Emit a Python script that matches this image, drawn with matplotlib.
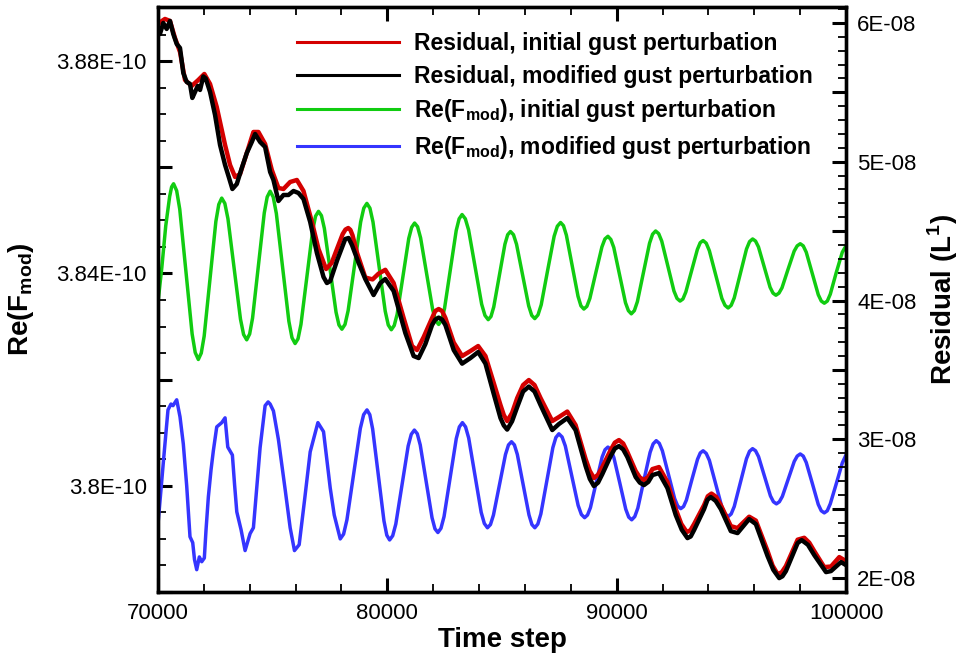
import numpy as np
import matplotlib
matplotlib.use('Agg')
import matplotlib.pyplot as plt
from matplotlib.ticker import MultipleLocator, FuncFormatter
from matplotlib.lines import Line2D

# (time step, Re(F_mod) in units of 1E-10), initial gust perturbation
f_init_pts = [
    (70000, 3.8345), (70170, 3.8412), (70340, 3.8490), (70510, 3.8545), (70595, 3.8563),
    (70680, 3.8569), (70815, 3.8556), (70950, 3.8521), (71220, 3.8404), (71490, 3.8286),
    (71625, 3.8251), (71760, 3.8238), (71888, 3.8250), (72015, 3.8282), (72270, 3.8390),
    (72525, 3.8498), (72652, 3.8530), (72780, 3.8542), (72916, 3.8532), (73052, 3.8503),
    (73325, 3.8409), (73598, 3.8314), (73734, 3.8285), (73870, 3.8275), (73998, 3.8286),
    (74125, 3.8316), (74380, 3.8415), (74635, 3.8514), (74762, 3.8544), (74890, 3.8555),
    (75026, 3.8544), (75162, 3.8513), (75435, 3.8412), (75708, 3.8310), (75844, 3.8279),
    (75980, 3.8268), (76108, 3.8277), (76235, 3.8304), (76490, 3.8393), (76745, 3.8481),
    (76872, 3.8508), (77000, 3.8517), (77128, 3.8509), (77255, 3.8485), (77510, 3.8406),
    (77765, 3.8327), (77892, 3.8303), (78020, 3.8295), (78156, 3.8304), (78292, 3.8330),
    (78565, 3.8414), (78838, 3.8497), (78974, 3.8523), (79110, 3.8532), (79243, 3.8523),
    (79376, 3.8497), (79642, 3.8413), (79909, 3.8329), (80042, 3.8303), (80175, 3.8294),
    (80302, 3.8302), (80429, 3.8323), (80682, 3.8395), (80936, 3.8466), (81063, 3.8487),
    (81190, 3.8495), (81321, 3.8488), (81452, 3.8467), (81715, 3.8400), (81978, 3.8332),
    (82109, 3.8311), (82240, 3.8304), (82368, 3.8312), (82495, 3.8334), (82750, 3.8408),
    (83005, 3.8481), (83132, 3.8503), (83260, 3.8511), (83402, 3.8503), (83545, 3.8482),
    (83830, 3.8412), (84115, 3.8342), (84258, 3.8321), (84400, 3.8313), (84521, 3.8319),
    (84642, 3.8337), (84885, 3.8396), (85128, 3.8455), (85249, 3.8473), (85370, 3.8479),
    (85502, 3.8473), (85635, 3.8455), (85900, 3.8397), (86165, 3.8339), (86298, 3.8321),
    (86430, 3.8315), (86571, 3.8322), (86711, 3.8341), (86992, 3.8406), (87274, 3.8470),
    (87414, 3.8489), (87555, 3.8496), (87682, 3.8490), (87809, 3.8472), (88062, 3.8415),
    (88316, 3.8357), (88443, 3.8339), (88570, 3.8333), (88701, 3.8338), (88832, 3.8353),
    (89095, 3.8402), (89358, 3.8450), (89489, 3.8465), (89620, 3.8470), (89748, 3.8464),
    (89875, 3.8449), (90130, 3.8397), (90385, 3.8345), (90512, 3.8330), (90640, 3.8324),
    (90772, 3.8330), (90905, 3.8347), (91170, 3.8402), (91435, 3.8457), (91568, 3.8474),
    (91700, 3.8480), (91833, 3.8475), (91966, 3.8461), (92232, 3.8414), (92499, 3.8367),
    (92632, 3.8353), (92765, 3.8348), (92891, 3.8352), (93016, 3.8365), (93268, 3.8405),
    (93519, 3.8445), (93644, 3.8458), (93770, 3.8462), (93906, 3.8457), (94042, 3.8443),
    (94315, 3.8398), (94588, 3.8353), (94724, 3.8340), (94860, 3.8335), (94994, 3.8340),
    (95128, 3.8354), (95395, 3.8400), (95662, 3.8446), (95796, 3.8460), (95930, 3.8465),
    (96057, 3.8461), (96184, 3.8450), (96438, 3.8412), (96691, 3.8374), (96818, 3.8363),
    (96945, 3.8359), (97078, 3.8363), (97210, 3.8373), (97475, 3.8408), (97740, 3.8442),
    (97872, 3.8452), (98005, 3.8456), (98136, 3.8452), (98268, 3.8440), (98530, 3.8400),
    (98792, 3.8360), (98924, 3.8348), (99055, 3.8344), (99186, 3.8348), (99316, 3.8361),
    (99578, 3.8402), (99839, 3.8440), (100000, 3.8452)]

# (time step, Re(F_mod) in units of 1E-10), modified gust perturbation
f_mod_pts = [
    (70000, 3.7927), (70131, 3.7993), (70262, 3.8058), (70437, 3.8143), (70568, 3.8154),
    (70655, 3.8151), (70817, 3.8162), (70961, 3.8130), (71105, 3.8079), (71253, 3.8000),
    (71397, 3.7904), (71515, 3.7893), (71594, 3.7861), (71690, 3.7842), (71804, 3.7866),
    (71908, 3.7857), (72022, 3.7864), (72096, 3.7917), (72197, 3.7979), (72314, 3.8030),
    (72415, 3.8066), (72563, 3.8111), (72782, 3.8119), (72926, 3.8128), (73044, 3.8073),
    (73245, 3.8058), (73341, 3.8002), (73437, 3.7951), (73625, 3.7917), (73799, 3.7878),
    (74018, 3.7910), (74162, 3.7921), (74301, 3.7993), (74454, 3.8072), (74672, 3.8151),
    (74804, 3.8158), (74891, 3.8154), (75035, 3.8141), (75253, 3.8087), (75546, 3.7993),
    (75764, 3.7921), (75952, 3.7878), (76157, 3.7889), (76389, 3.7972), (76638, 3.8064),
    (76974, 3.8119), (77219, 3.8102), (77511, 3.7996), (77686, 3.7945), (77948, 3.7900),
    (78094, 3.7909), (78240, 3.7936), (78531, 3.8022), (78823, 3.8108), (78968, 3.8134),
    (79114, 3.8143), (79237, 3.8134), (79361, 3.8107), (79608, 3.8021), (79854, 3.7934),
    (79978, 3.7907), (80101, 3.7898), (80236, 3.7906), (80371, 3.7928), (80640, 3.8002),
    (80910, 3.8075), (81045, 3.8097), (81180, 3.8105), (81308, 3.8098), (81436, 3.8077),
    (81693, 3.8009), (81950, 3.7940), (82078, 3.7919), (82206, 3.7912), (82340, 3.7920),
    (82474, 3.7942), (82741, 3.8016), (83008, 3.8089), (83142, 3.8111), (83276, 3.8119),
    (83412, 3.8111), (83549, 3.8090), (83821, 3.8020), (84094, 3.7950), (84231, 3.7929),
    (84367, 3.7921), (84498, 3.7927), (84629, 3.7945), (84891, 3.8002), (85153, 3.8059),
    (85284, 3.8077), (85415, 3.8083), (85542, 3.8077), (85670, 3.8059), (85924, 3.8002),
    (86179, 3.7945), (86306, 3.7927), (86433, 3.7921), (86564, 3.7928), (86695, 3.7947),
    (86957, 3.8010), (87219, 3.8072), (87350, 3.8091), (87481, 3.8098), (87621, 3.8092),
    (87762, 3.8075), (88042, 3.8019), (88322, 3.7963), (88463, 3.7946), (88603, 3.7940),
    (88730, 3.7945), (88858, 3.7959), (89112, 3.8007), (89367, 3.8054), (89494, 3.8068),
    (89621, 3.8073), (89750, 3.8068), (89880, 3.8053), (90139, 3.8005), (90397, 3.7956),
    (90527, 3.7941), (90656, 3.7936), (90790, 3.7942), (90924, 3.7958), (91191, 3.8011),
    (91459, 3.8063), (91592, 3.8079), (91726, 3.8085), (91860, 3.8080), (91994, 3.8066),
    (92261, 3.8021), (92529, 3.7976), (92662, 3.7962), (92796, 3.7957), (92918, 3.7961),
    (93040, 3.7973), (93283, 3.8012), (93527, 3.8050), (93648, 3.8062), (93770, 3.8066),
    (93906, 3.8061), (94043, 3.8048), (94316, 3.8004), (94588, 3.7960), (94725, 3.7947),
    (94861, 3.7942), (94994, 3.7947), (95128, 3.7961), (95394, 3.8006), (95661, 3.8051),
    (95794, 3.8065), (95927, 3.8070), (96057, 3.8066), (96187, 3.8055), (96447, 3.8018),
    (96706, 3.7981), (96836, 3.7970), (96966, 3.7966), (97096, 3.7970), (97226, 3.7980),
    (97486, 3.8013), (97745, 3.8046), (97875, 3.8056), (98005, 3.8060), (98136, 3.8056),
    (98267, 3.8044), (98529, 3.8005), (98791, 3.7965), (98922, 3.7953), (99053, 3.7949),
    (99184, 3.7953), (99315, 3.7966), (99577, 3.8004), (99839, 3.8043), (100000, 3.8058)]

# (time step, residual L1 in units of 1E-08), initial gust perturbation
res_init_pts = [
    (70000, 5.9928), (70175, 6.0144), (70306, 6.0288), (70524, 6.0144), (70742, 5.8919),
    (70961, 5.7910), (71179, 5.5892), (71472, 5.5459), (71760, 5.5892), (72022, 5.6324),
    (72271, 5.5604), (72563, 5.3946), (72926, 5.1207), (73144, 4.9766), (73363, 4.8901),
    (73581, 4.9117), (73874, 5.0631), (74162, 5.2144), (74380, 5.2144), (74672, 5.1279),
    (74965, 4.9405), (75253, 4.8108), (75472, 4.8036), (75764, 4.8541), (76057, 4.8685),
    (76345, 4.7892), (76712, 4.5658), (77000, 4.3712), (77330, 4.2270), (77572, 4.2700),
    (77813, 4.3750), (78055, 4.4790), (78176, 4.5113), (78297, 4.5225), (78390, 4.5089),
    (78483, 4.4704), (78677, 4.3452), (79040, 4.1658), (79358, 4.1521), (79620, 4.1939),
    (79913, 4.2213), (80276, 4.1261), (80712, 3.8739), (81079, 3.6721), (81297, 3.6432),
    (81586, 3.7369), (81952, 3.8739), (82090, 3.9243), (82240, 3.9387), (82390, 3.9243),
    (82533, 3.8739), (82896, 3.6973), (83262, 3.6000), (83625, 3.6360), (83961, 3.6721),
    (84280, 3.6000), (84642, 3.4054), (84935, 3.2468), (85080, 3.1750), (85227, 3.1315),
    (85440, 3.1900), (85664, 3.2973), (85920, 3.3910), (86171, 3.4270), (86420, 3.3910),
    (86682, 3.2973), (87193, 3.1315), (87481, 3.1604), (87848, 3.2000), (88210, 3.1027),
    (88647, 2.8577), (88830, 2.7720), (89009, 2.7207), (89190, 2.7450), (89376, 2.8000),
    (89738, 2.9225), (89920, 2.9760), (90101, 2.9946), (90285, 2.9700), (90468, 2.9081),
    (90830, 2.7712), (91010, 2.7250), (91193, 2.7063), (91380, 2.7300), (91560, 2.7856),
    (91848, 2.8000), (92215, 2.6919), (92577, 2.4973), (92820, 2.3900), (93058, 2.3315),
    (93220, 2.3450), (93376, 2.3892), (93813, 2.5261), (93975, 2.5900), (94136, 2.6090),
    (94340, 2.5850), (94542, 2.5261), (94979, 2.3748), (95271, 2.3604), (95778, 2.4425),
    (96070, 2.4144), (96581, 2.1946), (96800, 2.0900), (97018, 2.0288), (97200, 2.0420),
    (97380, 2.0865), (97891, 2.2768), (98180, 2.2905), (98400, 2.2550), (98617, 2.1946),
    (99053, 2.0793), (99346, 2.0836), (99708, 2.1514), (100000, 2.1225)]

# (time step, residual L1 in units of 1E-08), modified gust perturbation
res_mod_pts = [
    (70000, 5.9495), (70087, 5.9207), (70231, 6.0000), (70380, 5.9568), (70524, 6.0144),
    (70668, 5.9207), (70817, 5.8486), (70961, 5.8198), (71105, 5.6396), (71253, 5.5748),
    (71397, 5.5604), (71498, 5.4595), (71616, 5.5027), (71734, 5.5459), (71834, 5.5171),
    (71978, 5.6144), (72083, 5.6000), (72271, 5.5027), (72489, 5.3369), (72707, 5.1207),
    (72926, 4.9766), (73101, 4.8829), (73245, 4.8036), (73437, 4.8396), (73655, 4.9550),
    (73874, 5.0631), (74092, 5.1423), (74236, 5.2000), (74454, 5.1423), (74672, 5.1063),
    (74891, 4.9261), (75035, 4.8685), (75253, 4.7171), (75472, 4.7604), (75690, 4.7604),
    (75909, 4.7892), (76127, 4.7748), (76345, 4.7315), (76638, 4.5658), (76930, 4.3423),
    (77219, 4.1694), (77367, 4.1261), (77511, 4.1405), (77817, 4.2919), (78166, 4.4432),
    (78310, 4.4505), (78459, 4.4000), (78734, 4.2775), (79040, 4.1550), (79402, 4.0396),
    (79695, 4.1261), (79913, 4.1550), (80276, 4.0685), (80786, 3.7658), (81149, 3.6000),
    (81367, 3.5856), (81660, 3.6865), (81952, 3.8234), (82090, 3.8624), (82240, 3.8768),
    (82390, 3.8624), (82533, 3.8234), (82896, 3.6432), (83262, 3.5452), (83625, 3.5856),
    (83961, 3.6288), (84280, 3.5452), (84642, 3.3261), (84935, 3.1532), (85080, 3.1000),
    (85227, 3.0700), (85440, 3.1300), (85664, 3.2324), (85920, 3.3440), (86171, 3.3802),
    (86420, 3.3440), (86682, 3.2468), (87193, 3.0667), (87481, 3.1099), (87848, 3.1532),
    (88210, 3.0667), (88647, 2.8072), (88830, 2.7150), (89009, 2.6631), (89190, 2.6880),
    (89376, 2.7495), (89738, 2.8793), (89920, 2.9330), (90101, 2.9514), (90285, 2.9270),
    (90468, 2.8721), (90830, 2.7279), (91010, 2.6880), (91193, 2.6703), (91380, 2.6930),
    (91560, 2.7423), (91848, 2.7568), (92215, 2.6486), (92577, 2.4541), (92840, 2.3480),
    (93088, 2.2883), (93230, 2.3000), (93376, 2.3459), (93813, 2.4973), (93960, 2.5640),
    (94105, 2.5838), (94320, 2.5560), (94542, 2.4973), (94979, 2.3387), (95271, 2.3243),
    (95778, 2.4252), (96070, 2.3892), (96581, 2.1586), (96830, 2.0600), (97088, 2.0000),
    (97230, 2.0130), (97380, 2.0505), (97891, 2.2523), (98066, 2.2739), (98340, 2.2400),
    (98617, 2.1658), (99128, 2.0432), (99346, 2.0505), (99782, 2.1153), (100000, 2.0937)]

labels = ['Residual, initial gust perturbation',
          'Residual, modified gust perturbation',
          r'Re(F$_{\mathbf{mod}}$), initial gust perturbation',
          r'Re(F$_{\mathbf{mod}}$), modified gust perturbation']
colors = ['#d40000', '#000000', '#11cc11', '#3535ff']

plt.rcParams['font.family'] = ['Liberation Sans', 'DejaVu Sans']
plt.rcParams['mathtext.fontset'] = 'custom'
plt.rcParams['mathtext.rm'] = 'Liberation Sans'
plt.rcParams['mathtext.bf'] = 'Liberation Sans:bold'

fig = plt.figure(figsize=(9.62, 6.59), dpi=100)
ax = fig.add_axes([0.1642, 0.1017, 0.7152, 0.8877])
ax2 = ax.twinx()

line_kw = dict(solid_joinstyle='round', solid_capstyle='round')

# Re(F_mod) on the left axis
x, y = np.array(f_init_pts).T
ax.plot(x, y * 1e-10, color=colors[2], lw=2.5, **line_kw)
x, y = np.array(f_mod_pts).T
ax.plot(x, y * 1e-10, color=colors[3], lw=2.5, **line_kw)

# Residuals on the right axis
x, y = np.array(res_init_pts).T
ax2.plot(x, y * 1e-8, color=colors[0], lw=3.2, **line_kw)
x, y = np.array(res_mod_pts).T
ax2.plot(x, y * 1e-8, color=colors[1], lw=3.2, **line_kw)

ax.set_xlim(70000, 100000)
ax.set_ylim(3.78e-10, 3.8902e-10)
ax2.set_ylim(1.9e-8, 6.115e-8)


def left_fmt(v, pos):
    n = v / 0.04e-10
    if abs(n - round(n)) < 1e-3:
        return f"{v * 1e10:g}E-10"
    return ""


def right_fmt(v, pos):
    n = v / 1e-8
    if abs(n - round(n)) < 1e-3:
        return f"{int(round(n))}E-08"
    return ""


ax.xaxis.set_major_locator(MultipleLocator(10000))
ax.xaxis.set_minor_locator(MultipleLocator(2000))
ax.xaxis.set_major_formatter(FuncFormatter(lambda v, p: f"{int(round(v))}"))
ax.yaxis.set_major_locator(MultipleLocator(0.02e-10))
ax.yaxis.set_minor_locator(MultipleLocator(0.005e-10))
ax.yaxis.set_major_formatter(FuncFormatter(left_fmt))
ax2.yaxis.set_major_locator(MultipleLocator(0.5e-8))
ax2.yaxis.set_minor_locator(MultipleLocator(0.1e-8))
ax2.yaxis.set_major_formatter(FuncFormatter(right_fmt))

ax.tick_params(axis='x', which='both', direction='in', top=True, bottom=True)
ax.tick_params(axis='y', which='both', direction='in', left=True, right=False)
ax2.tick_params(axis='y', which='both', direction='in', left=False, right=True)
for a in (ax, ax2):
    a.tick_params(which='major', length=10, width=2.2, labelsize=16, pad=8)
    a.tick_params(which='minor', length=5.5, width=1.3)
    for s in a.spines.values():
        s.set_linewidth(2.4)

ax.set_xlabel('Time step', fontsize=20, fontweight='bold')
ax.xaxis.set_label_coords(0.5, -0.06)
ax.set_ylabel(r'Re(F$_{\mathbf{mod}}$)', fontsize=20, fontweight='bold')
ax.yaxis.set_label_coords(-0.177, 0.5)
ax2.set_ylabel(r'Residual (L$^{\mathbf{1}}$)', fontsize=20, fontweight='bold')
ax2.yaxis.set_label_coords(1.116, 0.5)

handles = [Line2D([], [], color=c, lw=2.2) for c in colors]
ax2.legend(handles, labels, loc='upper right',
           bbox_to_anchor=(813 / 962, 1 - 32 / 659), bbox_transform=fig.transFigure,
           frameon=False, prop={'weight': 'bold', 'size': 16.5},
           handlelength=4.45, handletextpad=0.65, labelspacing=0.42,
           borderpad=0, borderaxespad=0)

fig.savefig('out.png', dpi=100)
